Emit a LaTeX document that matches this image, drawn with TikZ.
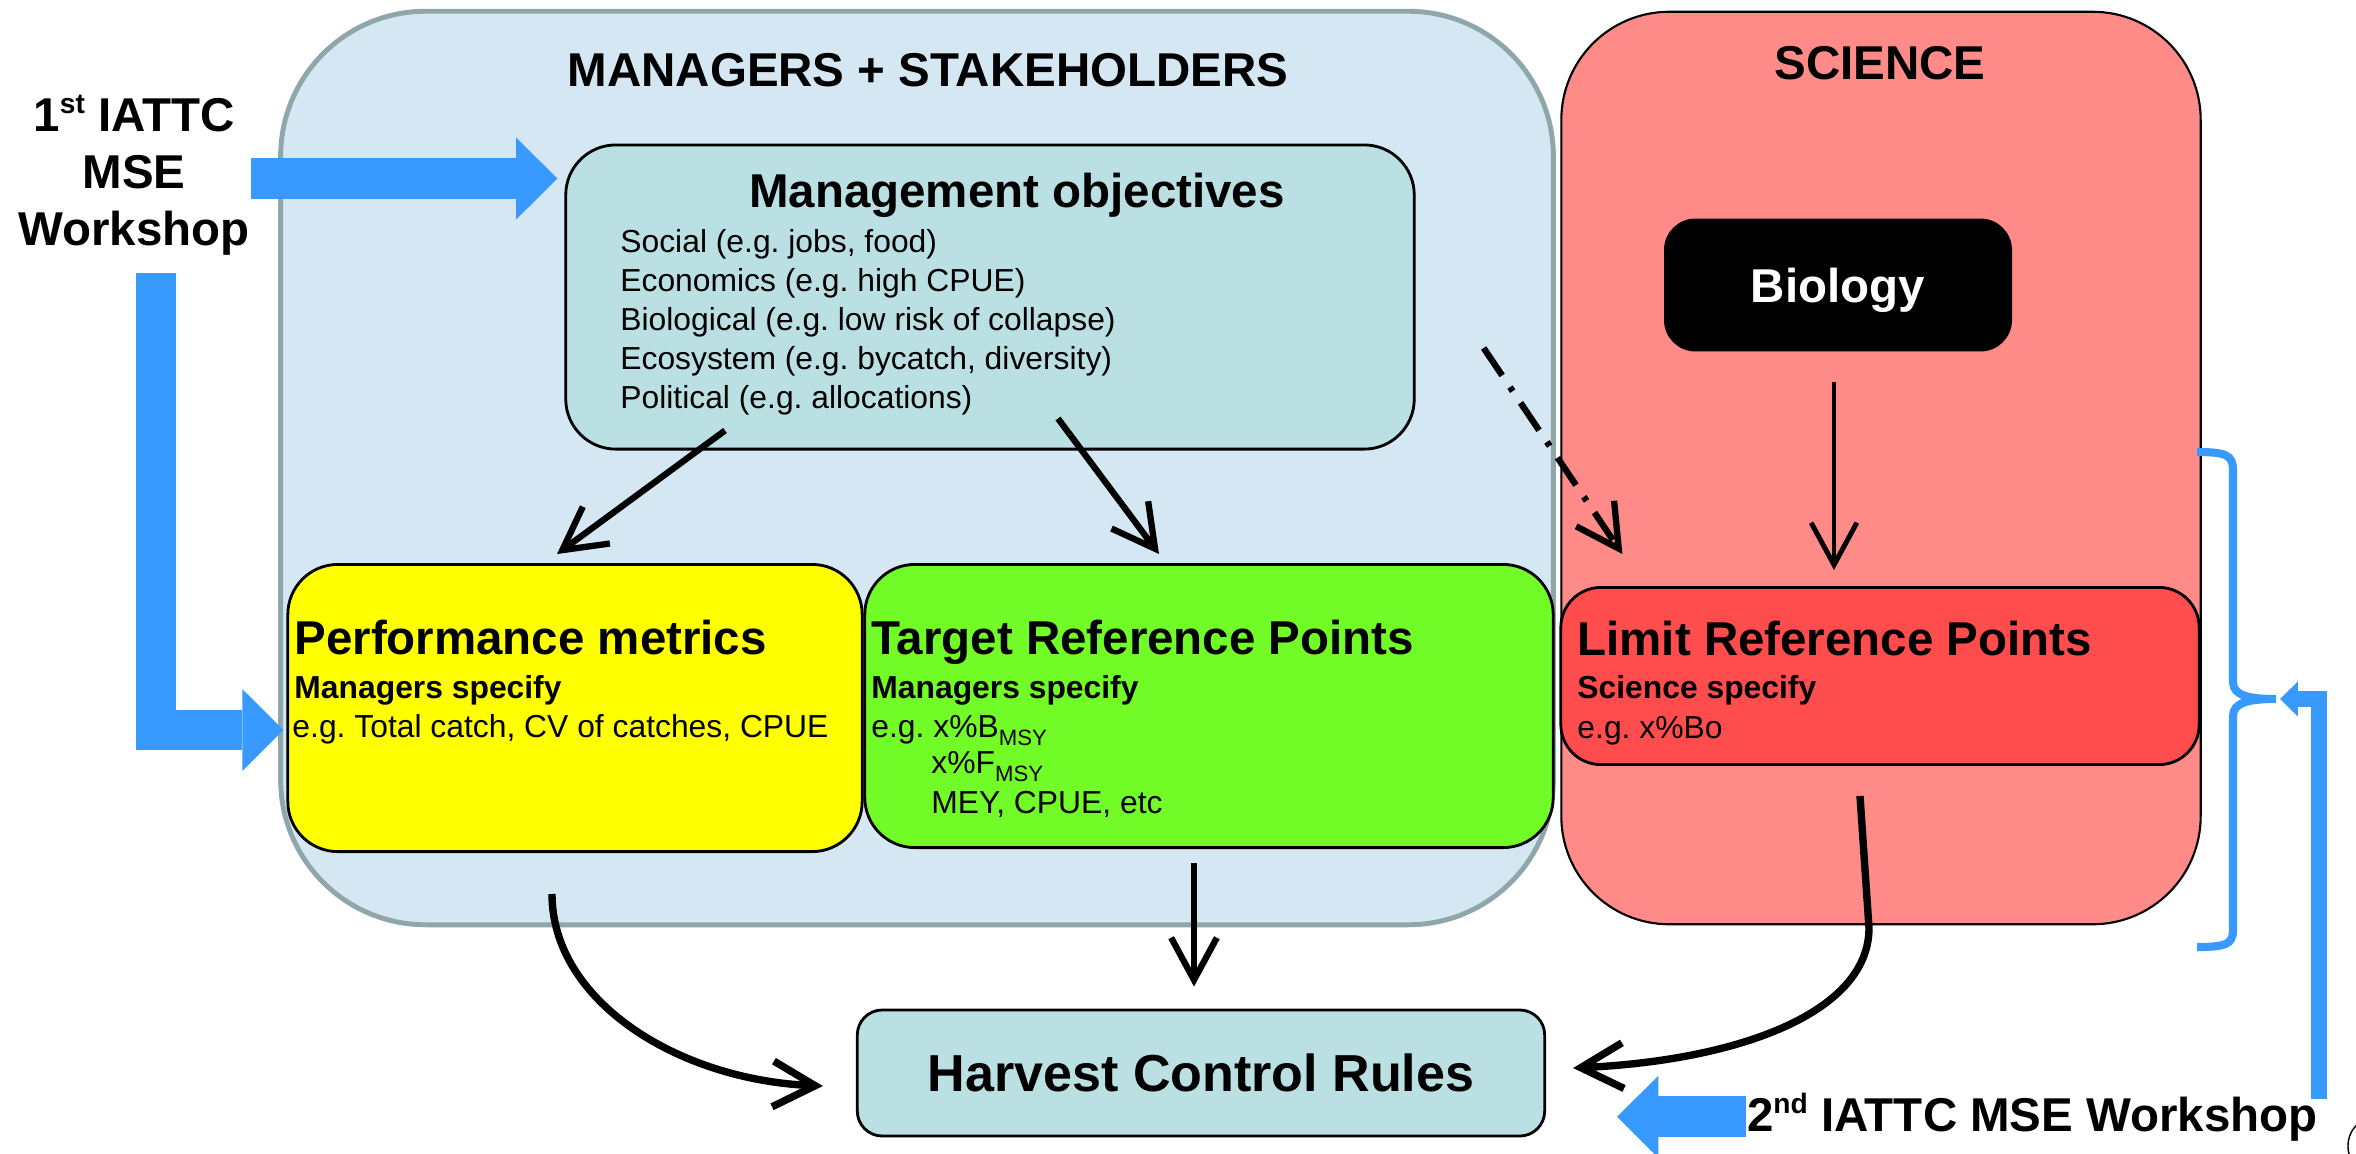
\documentclass[tikz,border=0pt]{standalone}
\usepackage{fontspec}
\setmainfont{Liberation Sans}
\usetikzlibrary{arrows.meta,positioning}
\frenchspacing

\definecolor{mgrfill}{HTML}{D4E7F2}
\definecolor{mgredge}{HTML}{8FA7AB}
\definecolor{objfill}{HTML}{BBE0E3}
\definecolor{scifill}{HTML}{FF8B89}
\definecolor{limfill}{HTML}{FF4C4C}
\definecolor{perffill}{HTML}{FFFF00}
\definecolor{tgtfill}{HTML}{72FC27}
\definecolor{wsblue}{HTML}{3899FF}

\newcommand{\headfont}{\fontsize{13.5pt}{16.2pt}\selectfont\bfseries}
\newcommand{\hcrfont}{\fontsize{14.8pt}{17.8pt}\selectfont\bfseries}
\newcommand{\bodyfont}{\fontsize{9.05pt}{11.1pt}\selectfont}
\newcommand{\supx}[1]{\raisebox{5.1pt}{\fontsize{8pt}{8pt}\selectfont #1}}
\newcommand{\subx}[1]{\raisebox{-2.3pt}{\fontsize{6.3pt}{6.3pt}\selectfont #1}}

\begin{document}
\begin{tikzpicture}[x=0.01cm,y=-0.01cm,>={Straight Barb[length=12pt,width=13pt]},semithick]
	\tikzstyle{box}=[draw,line width=0.8pt,inner sep=0pt]
	\tikzstyle{hdtxt}=[font=\headfont,inner sep=0pt]
	\tikzstyle{objtxt}=[font=\bodyfont,inner sep=0pt,anchor=base west]
	\tikzstyle{whotxt}=[font=\bodyfont\bfseries,inner sep=0pt,anchor=base west]
	\tikzstyle{arr}=[->,line width=1.8pt]
	\tikzstyle{fat}=[wsblue,line width=11.6pt,-{Triangle[length=11.7pt,width=23.3pt,line width=0pt]}]

	\useasboundingbox (0,0) rectangle (2356,1153);

	% the two groups
	\node[box,draw=mgredge,line width=1.4pt,fill=mgrfill,rounded corners=1.45cm,minimum width=12.72cm,minimum height=9.13cm] (mgr) at (917,468) {};
	\node[box,fill=scifill,line width=0.6pt,rounded corners=1.08cm,minimum width=6.39cm,minimum height=9.12cm] (sci) at (1881,468) {};
	\node[hdtxt,anchor=base] (mgrtitle) at ([shift={(11,78)}]mgr.north) {MANAGERS + STAKEHOLDERS};
	\node[hdtxt,anchor=base] (scititle) at ([shift={(-1,69)}]sci.north) {SCIENCE};

	% objectives
	\node[box,fill=objfill,rounded corners=0.5cm,minimum width=8.48cm,minimum height=3.04cm] (mgmt) at (990,297) {};
	\node[hdtxt,anchor=base] (mgmttitle) at ([shift={(27,64)}]mgmt.north) {Management objectives};
	\foreach \txt [count=\i] in {{Social (e.g. jobs, food)},{Economics (e.g. high CPUE)},{Biological (e.g. low risk of collapse)},{Ecosystem (e.g. bycatch, diversity)},{Political (e.g. allocations)}}
		\node[objtxt] (obj\i) at ([shift={(55,70+39*\i)}]mgmt.north west) {\txt};

	\node[box,fill=black,rounded corners=0.3cm,minimum width=3.45cm,minimum height=1.3cm,text=white,font=\headfont,text depth=0pt] (bio) at (1838,285) {Biology};

	% reference points
	\node[box,fill=perffill,rounded corners=0.5cm,minimum width=5.74cm,minimum height=2.87cm] (perf) at (575,708) {};
	\node[hdtxt,anchor=base west] (perftitle) at ([shift={(7,91)}]perf.north west) {Performance metrics};
	\node[whotxt] (perfwho) at ([shift={(7,135)}]perf.north west) {Managers specify};
	\node[objtxt] (perfeg) at ([shift={(5,174)}]perf.north west) {e.g. Total catch, CV of catches, CPUE};

	\node[box,fill=tgtfill,rounded corners=0.5cm,minimum width=6.88cm,minimum height=2.83cm] (tgt) at (1209,706) {};
	\node[hdtxt,anchor=base west] (tgttitle) at ([shift={(7,91)}]tgt.north west) {Target Reference Points};
	\node[whotxt] (tgtwho) at ([shift={(7,135)}]tgt.north west) {Managers specify};
	\node[objtxt] (tgteg1) at ([shift={(7,174)}]tgt.north west) {e.g. x\%B\subx{MSY}};
	\node[objtxt] (tgteg2) at ([shift={(67,210)}]tgt.north west) {x\%F\subx{MSY}};
	\node[objtxt] (tgteg3) at ([shift={(67,250)}]tgt.north west) {MEY, CPUE, etc};

	\node[box,fill=limfill,rounded corners=0.4cm,minimum width=6.38cm,minimum height=1.77cm] (lim) at (1880,676) {};
	\node[hdtxt,anchor=base west] (limtitle) at ([shift={(17,69)}]lim.north west) {Limit Reference Points};
	\node[whotxt] (limwho) at ([shift={(17,112)}]lim.north west) {Science specify};
	\node[objtxt] (limeg) at ([shift={(17,152)}]lim.north west) {e.g. x\%Bo};

	\node[box,fill=objfill,rounded corners=0.25cm,minimum width=6.87cm,minimum height=1.26cm,font=\hcrfont,text depth=0pt] (hcr) at (1201,1073) {Harvest Control Rules};

	% workshops
	\node[hdtxt,align=center,anchor=base] (ws1) at (134,245) {1\supx{st} IATTC\\MSE\\Workshop};
	\node[hdtxt,anchor=base west] (ws2) at (1746,1131) {2\supx{nd} IATTC MSE Workshop};

	% black arrows
	\draw[arr] ([shift={(-265,-20)}]mgmt.south) -- ([shift={(-18,-9)}]perf.north);
	\draw[arr] ([shift={(68,-32)}]mgmt.south) -- ([shift={(-50,-9)}]tgt.north);
	\draw[arr,dash pattern=on 9.4pt off 4pt on 1.4pt off 4pt] ([shift={(68,51)}]mgmt.east) -- ([shift={(63,-32)}]lim.north west);
	\draw[arr,line width=1.4pt] ([shift={(-4,31)}]bio.south) -- ([shift={(-46,-16)}]lim.north);
	\draw[arr] ([shift={(-15,14)}]tgt.south) -- ([shift={(-7,-22)}]hcr.north);
	\draw[arr,line width=2.1pt] ([shift={(-23,41)}]perf.south) .. controls +(0,107) and +(-145,-6) .. ([shift={(-33,13)}]hcr.west);
	\draw[arr,line width=2.1pt] ([shift={(-20,30)}]lim.south) -- ++(9,132) .. controls +(0,83) and +(170,-8) .. ([shift={(27,-5)}]hcr.east);

	% blue arrows
	\coordinate (tip1) at ([shift={(-7,35)}]mgmt.north west);
	\draw[fat] (ws1.east |- tip1) -- (tip1);
	\coordinate (tip2) at ([shift={(-3,22)}]perf.west);
	\draw[fat] ([shift={(22,17)}]ws1.south) |- (tip2);
	\coordinate (tip3) at ([shift={(71,44)}]hcr.east);
	\draw[fat] (ws2.west) -- (ws2.west -| tip3);

	% bracket round the science side
	\draw[wsblue,line width=2.3pt] (2197,452) .. controls (2226,452) and (2233,455) .. (2233,470) -- (2233,682) .. controls (2233,696) and (2250,699) .. (2276,699) .. controls (2250,699) and (2233,702) .. (2233,716) -- (2233,930) .. controls (2233,944) and (2226,947) .. (2197,947);
	\coordinate (brtip) at (2280,699);
	\draw[wsblue,line width=4.6pt,-{Triangle[length=5.1pt,width=10pt,line width=0pt]}] ([shift={(0,7)}]ws2.north east) |- (brtip);

	\draw[line width=0.4pt] (2378,1146) circle (0.3cm);
\end{tikzpicture}
\end{document}
